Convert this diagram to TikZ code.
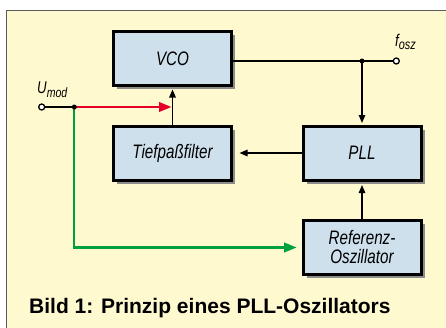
\documentclass[tikz,border=0pt]{standalone}
\usepackage{fontspec}
\setmainfont{Liberation Sans}
\newfontfamily\narrowfont[FakeStretch=0.78]{Liberation Sans}
\usetikzlibrary{arrows.meta,shadows}
\definecolor{panelbg}{RGB}{255,249,208}
\definecolor{boxfill}{RGB}{206,224,236}
\definecolor{redline}{RGB}{228,0,40}
\definecolor{greenline}{RGB}{0,160,60}
\definecolor{framegray}{RGB}{90,90,90}
\begin{document}
\begin{tikzpicture}[x=1pt,y=-1pt,
  blockbox/.style={draw=black, line width=3pt, fill=boxfill,
    minimum width=118pt, minimum height=54pt, inner sep=0pt, align=center,
    font=\narrowfont\itshape\fontsize{19.5}{19}\selectfont,
    drop shadow={shadow xshift=3.5pt, shadow yshift=-3.5pt, fill=black!45, opacity=1}},
  wire/.style={line width=1.4pt, draw=black},
  bk/.style={-{Triangle[length=8pt,width=6.5pt]}},
  redwire/.style={line width=2.2pt, draw=redline, -{Triangle[length=12.5pt,width=9.5pt]}},
  greenwire/.style={line width=2.2pt, draw=greenline, -{Triangle[length=12.5pt,width=9.5pt]}},
  terminal/.style={circle, draw=black, fill=white, line width=1.3pt, minimum size=6pt, inner sep=0pt},
  junction/.style={circle, fill=black, minimum size=5pt, inner sep=0pt},
  lbl/.style={anchor=base west, inner sep=0pt, font=\narrowfont\itshape\fontsize{17}{17}\selectfont}
]
\useasboundingbox (0,0) rectangle (446,327);
\clip (0,0) rectangle (446,327);
\fill[white] (0,0) rectangle (446,327);
\draw[fill=panelbg, draw=framegray, line width=1pt] (6,10) rectangle (460,340);

\node[blockbox] (vco) at (172.5,58.5) {VCO};
\node[blockbox] (tp) at (172.5,153) {Tiefpaßfilter};
\node[blockbox] (pll) at (362,153) {PLL};
\node[blockbox] (ref) at (362,247.5) {Referenz-\\Oszillator};

\coordinate (j1) at (74.3,107);
\coordinate (j2) at (362,61);
\node[terminal] (umod) at (41.7,107) {};
\node[terminal] (fosz) at (396.3,61) {};

\node[lbl] (lumod) at (37,93.3) {U\raisebox{-4.3pt}{\fontsize{13.5}{13.5}\selectfont mod}};
\node[lbl] (lfosz) at (395,46.7) {f\raisebox{-2.5pt}{\fontsize{14}{14}\selectfont osz}};

\draw[wire] (vco.east |- j2) -- (j2) -- (fosz);
\draw[wire,bk] (j2) -- ([yshift=1.5pt]j2 |- pll.north);
\draw[wire,bk] (pll.west) -- ([xshift=6.5pt]tp.east);
\draw[wire,bk] (ref.north) -- ([yshift=-3.5pt]pll.south);
\draw[wire,bk] (tp.north) -- ([yshift=-2.5pt]vco.south);
\draw[wire] (umod) -- (j1);
\draw[redwire, shorten >=1pt] (j1) -- (j1 -| tp.north);
\draw[greenwire] (j1) |- ([xshift=-4.8pt]ref.west);
\node[junction] (dot1) at (j1) {};
\node[junction] (dot2) at (j2) {};

\node[anchor=base west, inner sep=0pt, font=\bfseries\fontsize{21}{22}\selectfont] (cap) at (29,313) {Bild 1: Prinzip eines PLL-Oszillators};
\end{tikzpicture}
\end{document}
